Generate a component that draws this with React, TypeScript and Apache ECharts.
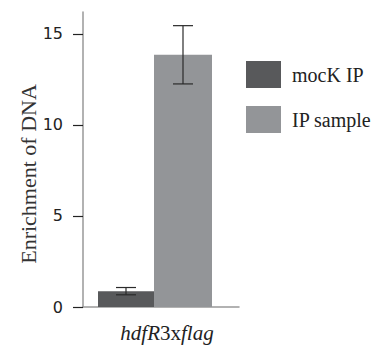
import React, { useEffect, useRef } from "react";
import * as echarts from "echarts";

const categories = ["hdfR3xflag"];
const seriesNames = ["mocK IP", "IP sample"];
const mockValues = [0.87];
const mockErrors = [0.2];
const ipValues = [13.85];
const ipErrors = [1.6];
const yTicks = [0, 5, 10, 15];
const yAxisTitle = "Enrichment of DNA";

const W_DARK = 56;
const W_LIGHT = 58;
const W_SPACER = 12;
const SERIF = "Liberation Serif";
const SANS = "DejaVu Sans";

export default function App() {
  const ref = useRef<HTMLDivElement>(null);
  useEffect(() => {
    if (!ref.current) return;
    const chart = echarts.init(ref.current, null, { renderer: "svg" });
    const total = W_DARK + W_LIGHT + W_SPACER;
    const errSeries = (vals: number[], errs: number[], offset: number) => ({
      type: "custom",
      data: vals.map((v, i) => [i, v - errs[i], v + errs[i]]),
      z: 10,
      silent: true,
      renderItem: (params: any, api: any) => {
        const lo = api.coord([api.value(0), api.value(1)]);
        const hi = api.coord([api.value(0), api.value(2)]);
        const x = lo[0] - total / 2 + offset;
        const cap = 10;
        const style = { stroke: "#2a2a2a", lineWidth: 1.2 };
        return {
          type: "group",
          children: [
            { type: "line", shape: { x1: x, y1: lo[1], x2: x, y2: hi[1] }, style },
            { type: "line", shape: { x1: x - cap, y1: lo[1], x2: x + cap, y2: lo[1] }, style },
            { type: "line", shape: { x1: x - cap, y1: hi[1], x2: x + cap, y2: hi[1] }, style },
          ],
        };
      },
    });
    // category label: "hdfR" and "flag" italic, "3x" upright
    const cat = categories[0];
    const catRich = `{i|${cat.slice(0, 4)}}{n|${cat.slice(4, 6)}}{i|${cat.slice(6)}}`;
    chart.setOption({
      animation: false,
      grid: { left: 83, right: 140, top: 12, bottom: 38 },
      legend: {
        orient: "vertical",
        left: 246,
        top: 61,
        padding: 0,
        itemWidth: 35,
        itemHeight: 27,
        itemGap: 18,
        icon: "rect",
        data: seriesNames,
        textStyle: { fontFamily: SERIF, fontSize: 20, color: "#222", padding: [0, 0, 6, 6] },
      },
      graphic: [
        {
          type: "text",
          x: 28,
          y: 174,
          rotation: Math.PI / 2,
          silent: true,
          style: {
            text: yAxisTitle,
            font: `22px '${SERIF}'`,
            fill: "#333",
            align: "center",
            verticalAlign: "middle",
          },
        },
        {
          type: "text",
          x: 167,
          y: 333,
          silent: true,
          style: {
            text: catRich,
            font: `italic 21px '${SERIF}'`,
            fill: "#222",
            align: "center",
            verticalAlign: "middle",
            rich: {
              i: { font: `italic 21px '${SERIF}'`, fill: "#222" },
              n: { font: `normal 21px '${SERIF}'`, fill: "#222" },
            },
          },
        },
      ],
      xAxis: {
        type: "category",
        data: categories,
        axisLine: { lineStyle: { color: "#999", width: 1.5 } },
        axisTick: { show: false },
        axisLabel: { show: false },
      },
      yAxis: {
        type: "value",
        min: 0,
        max: 16.2,
        interval: 5,
        splitLine: { show: false },
        axisLine: { show: true, lineStyle: { color: "#999", width: 1.5 } },
        axisTick: { show: true, length: 10, lineStyle: { color: "#222", width: 1.2 }, customValues: yTicks },
        axisLabel: {
          margin: 20,
          fontFamily: SANS,
          fontSize: 16,
          color: "#222",
          padding: [0, 0, 10, 0],
          customValues: yTicks,
        },
      },
      series: [
        { name: seriesNames[0], type: "bar", data: mockValues, barWidth: W_DARK, barGap: "0%", itemStyle: { color: "#58595b" } },
        { name: seriesNames[1], type: "bar", data: ipValues, barWidth: W_LIGHT, barGap: "0%", itemStyle: { color: "#939598" } },
        { name: "spacer", type: "bar", data: [0], barWidth: W_SPACER, barGap: "0%", silent: true, itemStyle: { color: "rgba(0,0,0,0)" } },
        errSeries(mockValues, mockErrors, W_DARK / 2),
        errSeries(ipValues, ipErrors, W_DARK + W_LIGHT / 2),
      ],
    });
    return () => chart.dispose();
  }, []);
  return <div ref={ref} style={{ position: "absolute", left: 0, top: 0, width: 379, height: 345 }} />;
}
